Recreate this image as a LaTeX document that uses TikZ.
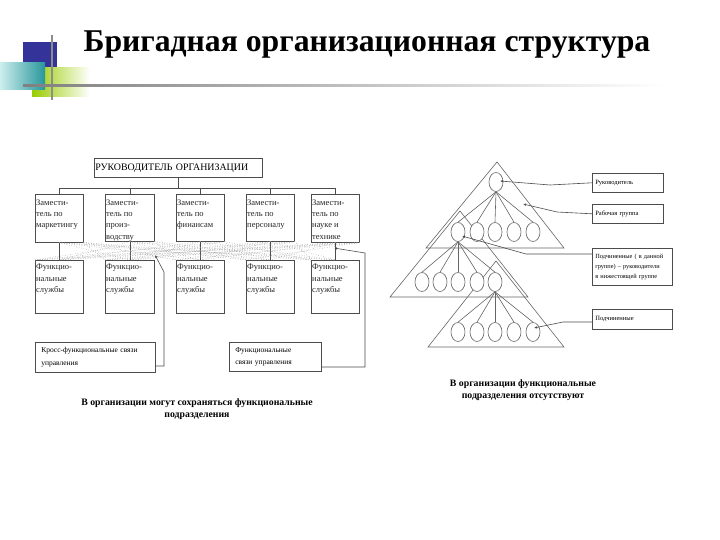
\documentclass[tikz,border=0pt]{standalone}
\usepackage{fontspec}
\setmainfont{Liberation Serif}
\usetikzlibrary{arrows.meta,shapes.geometric}
\begin{document}
\begin{tikzpicture}[x=1pt,y=-1pt,
  box/.style={draw=black!70, line width=0.6pt, inner sep=0pt, anchor=north west, fill=white},
  tbox/.style={draw=black!70, line width=0.6pt, anchor=north west, inner ysep=0pt, inner xsep=#1, align=left},
  btxt/.style={anchor=north west, inner sep=0pt, align=left, font=\fontsize{8.5}{11.3}\selectfont, text=black!85},
  conn/.style={draw=black!70, line width=0.6pt},
  dotpat/.style={draw=black!40, line width=0.5pt, dotted},
  tri/.style={draw=black!60, line width=0.6pt},
  ell/.style={ellipse, draw=black!60, line width=0.6pt, fill=white, minimum width=14pt, minimum height=19pt, inner sep=0pt},
  ptr/.style={draw=black!70, line width=0.6pt, -{Latex[length=3pt,width=2.5pt]}},
  captxt/.style={align=center, font=\fontsize{9.8}{12}\bfseries\selectfont, inner sep=0pt}
]
\useasboundingbox[fill=white] (0,0) rectangle (720,540);

% decoration
\fill[fill={rgb,255:red,51;green,51;blue,153}] (23,42) rectangle (57,80);
\shade[left color={rgb,255:red,153;green,204;blue,0}, middle color={rgb,255:red,170;green,212;blue,40}, right color=white] (32,68) rectangle (90,97);
\shade[left color={rgb,255:red,205;green,238;blue,238}, right color={rgb,255:red,40;green,150;blue,155}] (0,63) rectangle (45,90);
\fill[black!45] (51,35) rectangle (53,100);
\shade[left color=black!50, right color=white] (23,84.5) rectangle (665,86.5);

\node[font=\fontsize{31.7}{36}\bfseries\selectfont, inner sep=0pt, anchor=base] (title) at (367,52) {Бригадная организационная структура};

% left chart
\node[tbox=1pt, minimum width=168pt, minimum height=19pt, text width=166pt, font=\fontsize{9.9}{11}\selectfont] (top) at (94,158) {РУКОВОДИТЕЛЬ ОРГАНИЗАЦИИ};

\node[box, minimum width=48pt, minimum height=48pt] (d1) at (35,194) {};
\node[box, minimum width=49pt, minimum height=47pt] (d2) at (105,194) {};
\node[box, minimum width=48pt, minimum height=47pt] (d3) at (176,194) {};
\node[box, minimum width=48pt, minimum height=47pt] (d4) at (246,194) {};
\node[box, minimum width=48pt, minimum height=48pt] (d5) at (311,194) {};
\node[btxt] (d1t) at (36,199.5) {Замести-\\тель по\\маркетингу};
\node[btxt] (d2t) at (106,199.5) {Замести-\\тель по\\произ-\\водству};
\node[btxt] (d3t) at (177,199.5) {Замести-\\тель по\\финансам};
\node[btxt] (d4t) at (247,199.5) {Замести-\\тель по\\персоналу};
\node[btxt] (d5t) at (312,199.5) {Замести-\\тель по\\науке и\\технике};

\node[box, minimum width=48pt, minimum height=53pt] (f1) at (35,260) {};
\node[box, minimum width=49pt, minimum height=53pt] (f2) at (105,260) {};
\node[box, minimum width=48pt, minimum height=53pt] (f3) at (176,260) {};
\node[box, minimum width=48pt, minimum height=53pt] (f4) at (246,260) {};
\node[box, minimum width=48pt, minimum height=53pt] (f5) at (311,260) {};
\foreach \i in {1,...,5}{
  \node[btxt] (f\i t) at ([xshift=1pt,yshift=-4pt]f\i.north west) {Функцио-\\нальные\\службы};
}

% bus
\coordinate (bus) at (0,188);
\draw[conn] (top.south) -- (top.south |- bus);
\draw[conn] (d1.north |- bus) -- (d5.north |- bus);
\foreach \i in {1,...,5}{
  \draw[conn] (d\i.north |- bus) -- (d\i.north);
  \draw[conn] (d\i.south) -- (f\i.north);
}
% cross-functional dotted links
\foreach \i in {1,...,5}{
  \foreach \j in {1,...,5}{
    \ifnum\i=\j\else
      \draw[dotpat] (d\i.south) -- (f\j.north);
      \draw[dotpat] (d\i.south east) -- (f\j.north west);
    \fi
  }
}

\node[tbox=6pt, minimum width=120pt, minimum height=30pt, text width=108pt, font=\fontsize{7.5}{12.5}\selectfont] (cross) at (35,342) {Кросс-функциональные связи\\управления};
\node[tbox=6pt, minimum width=92pt, minimum height=29pt, text width=80pt, font=\fontsize{7.5}{12}\selectfont] (flink) at (229,342) {Функциональные\\связи управления};

\coordinate (ca) at (164,366);
\coordinate (cb) at (164,272);
\coordinate (cc) at (155,255);
\draw[ptr] (cross.east |- ca) -- (ca) -- (cb) -- (cc);
\coordinate (fa) at (365,367);
\coordinate (fb) at (365,253);
\coordinate (fc) at (334,248);
\draw[ptr] (flink.east |- fa) -- (fa) -- (fb) -- (fc);

% right: linking-pin triangles
\draw[tri] (497,162) -- (426,248) -- (564,248) -- cycle;
\draw[tri] (460,211) -- (390,297) -- (528,297) -- cycle;
\draw[tri] (496,261) -- (428,347) -- (564,347) -- cycle;

\node[ell] (L) at (496,182) {};
\foreach \x [count=\k] in {458,477,495,514,533}{
  \node[ell] (A\k) at (\x,232) {};
  \node[ell] (C\k) at (\x,332) {};
}
\foreach \x [count=\k] in {422,440,458,477,495}{
  \node[ell] (B\k) at (\x,282) {};
}
\foreach \k in {1,...,5}{
  \draw[tri] (L.south) -- (A\k.north);
  \draw[tri] (A1.south) -- (B\k.north);
  \draw[tri] (B5.south) -- (C\k.north);
}

\node[tbox=3pt, minimum width=71pt, minimum height=19pt, text width=65pt, font=\fontsize{6.5}{10}\selectfont] (r1) at (592,173) {Руководитель};
\node[tbox=3pt, minimum width=71pt, minimum height=19pt, text width=65pt, font=\fontsize{6.5}{10}\selectfont] (r2) at (592,204) {Рабочая группа};
\node[tbox=3pt, minimum width=80pt, minimum height=37pt, text width=74pt, font=\fontsize{6.3}{10}\selectfont] (r3) at (592,248) {Подчиненные ( в данной\\группе) -- руководители\\в нижестоящей группе};
\node[tbox=3pt, minimum width=80pt, minimum height=20pt, text width=74pt, font=\fontsize{6.5}{10}\selectfont] (r4) at (592,309) {Подчиненные};

\coordinate (p1) at (500,181);
\coordinate (q1) at (550,185);
\draw[ptr] (r1.west) -- (q1) -- (p1);
\coordinate (p2) at (523,204);
\coordinate (q2) at (557,212);
\draw[ptr] (r2.west) -- (q2) -- (p2);
\coordinate (p3) at (462,236);
\coordinate (q3) at (526,254);
\draw[ptr] (r3.west |- q3) -- (q3) -- (p3);
\coordinate (p4) at (534,328);
\coordinate (q4) at (563,322);
\draw[ptr] (r4.west |- q4) -- (q4) -- (p4);

% captions
\node[captxt] (capL) at (197,409) {В организации могут сохраняться функциональные\\подразделения};
\node[captxt] (capR) at (523,390) {В организации функциональные\\подразделения отсутствуют};
\end{tikzpicture}
\end{document}
